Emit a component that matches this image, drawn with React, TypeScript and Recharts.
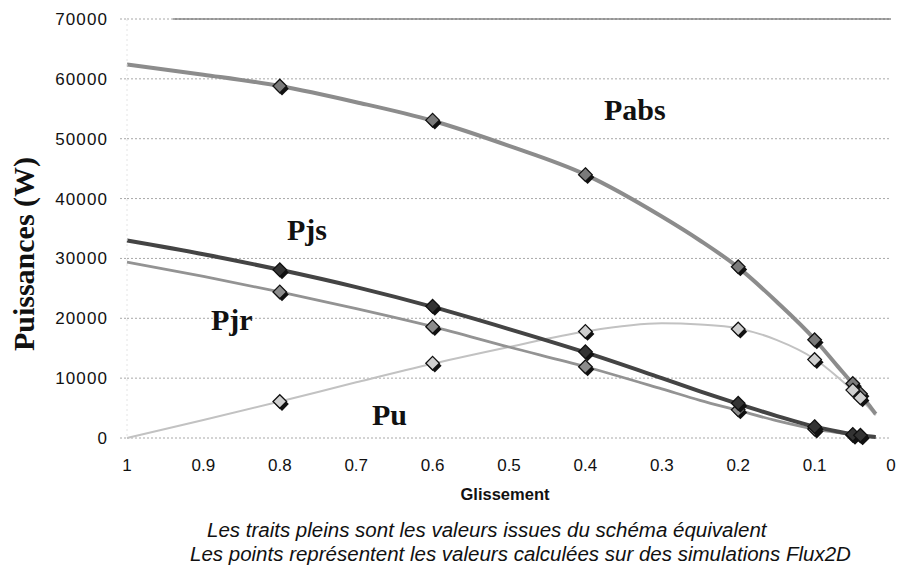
import React from "react";
import {
  ComposedChart,
  Line,
  Scatter,
  XAxis,
  YAxis,
  CartesianGrid,
  ReferenceLine,
} from "recharts";

// Slip values where the equivalent-circuit curves are sampled
const curveSlip = [1, 0.9, 0.8, 0.7, 0.6, 0.5, 0.4, 0.3, 0.25, 0.2, 0.15, 0.1, 0.07, 0.05, 0.04, 0.03, 0.02];
// Equivalent circuit results (W)
const pabsCurve = [62400, 60700, 58800, 56100, 53000, 48800, 44000, 37000, 33000, 28500, 22800, 16500, 12000, 9000, 7300, 5700, 4000];
const pjsCurve = [33000, 30700, 28100, 25200, 21900, 18200, 14300, 10000, 7800, 5700, 3700, 1900, 1100, 650, 450, 300, 180];
const pjrCurve = [29400, 27000, 24400, 21600, 18600, 15200, 11900, 8200, 6300, 4600, 2900, 1500, 900, 500, 380, 250, 150];
const puCurve = [0, 3000, 6100, 9300, 12400, 15200, 17800, 19150, 18950, 18300, 16400, 13200, 10200, 7900, 6600, 5200, 3800];

// Slip values of the Flux2D simulations
const simSlip = [0.8, 0.6, 0.4, 0.2, 0.1, 0.05, 0.04];
// Flux2D simulation results (W)
const pabsSim = [58800, 53100, 44000, 28600, 16400, 9100, 7400];
const pjsSim = [28100, 22000, 14400, 5800, 1900, 600, 450];
const pjrSim = [24400, 18600, 11900, 4700, 1500, 450, 350];
const puSim = [6100, 12500, 17800, 18200, 13100, 8000, 6700];

const xTicks = [1, 0.9, 0.8, 0.7, 0.6, 0.5, 0.4, 0.3, 0.2, 0.1, 0];
const yTicks = [0, 10000, 20000, 30000, 40000, 50000, 60000, 70000];

const toPoints = (xs: number[], ys: number[]) => xs.map((s, i) => ({ s, p: ys[i] }));

const SANS = '"Liberation Sans", Arial, Helvetica, sans-serif';
const SERIF = '"Liberation Serif", "Times New Roman", Times, serif';

const XTick = (props: any) => {
  const { x, y, payload } = props;
  return (
    <text x={x} y={y} dy="0.71em" textAnchor="middle" fontFamily={SANS} fontSize={17} fill="#111">
      {String(payload.value)}
    </text>
  );
};

const YTick = (props: any) => {
  const { x, y, payload } = props;
  return (
    <text x={x} y={y} dy="0.355em" textAnchor="end" fontFamily={SANS} fontSize={17} letterSpacing={1.1} fill="#111">
      {String(payload.value)}
    </text>
  );
};

const makeDiamond = (fill: string) => (props: any) => {
  const { cx, cy } = props;
  if (cx == null || cy == null) return <g />;
  const r = 6.8;
  const d = (x: number, y: number) =>
    `M${x},${y - r} L${x + r},${y} L${x},${y + r} L${x - r},${y} Z`;
  return (
    <g>
      <path d={d(cx + 2.2, cy + 2.6)} fill="#111" />
      <path d={d(cx, cy)} fill={fill} stroke="#111" strokeWidth={1.3} />
    </g>
  );
};

export default function App() {
  return (
    <div style={{ position: "absolute", left: 0, top: 0, width: 897, height: 571, background: "#fff" }}>
      <ComposedChart
        width={897}
        height={571}
        margin={{ top: 19, right: 6, bottom: 103, left: 0 }}
      >
        <CartesianGrid
          horizontal={true}
          vertical={false}
          stroke="#a8a8a8"
          strokeDasharray="2 2"
        />
        <ReferenceLine
          segment={[{ x: 0.94, y: 70000 }, { x: 0, y: 70000 }]}
          stroke="#555"
          strokeWidth={1.2}
        />
        <XAxis
          dataKey="s"
          type="number"
          domain={[0, 1]}
          reversed
          ticks={xTicks}
          interval={0}
          axisLine={false}
          tickLine={false}
          tickSize={0}
          tickMargin={21}
          height={30}
          tick={<XTick />}
        />
        <YAxis
          dataKey="p"
          type="number"
          domain={[0, 70000]}
          ticks={yTicks}
          interval={0}
          width={127}
          axisLine={{ stroke: "#e4e4e4", strokeDasharray: "2 3" }}
          tickLine={{ stroke: "#a8a8a8", strokeDasharray: "2 2" }}
          tickSize={7}
          tickMargin={12}
          tick={<YTick />}
        />

        <Line
          data={toPoints(curveSlip, puCurve)}
          dataKey="p"
          type="monotone"
          stroke="#c2c2c2"
          strokeWidth={2}
          dot={false}
          activeDot={false}
          isAnimationActive={false}
        />
        <Line
          data={toPoints(curveSlip, pjrCurve)}
          dataKey="p"
          type="monotone"
          stroke="#939393"
          strokeWidth={2.8}
          dot={false}
          activeDot={false}
          isAnimationActive={false}
        />
        <Line
          data={toPoints(curveSlip, pjsCurve)}
          dataKey="p"
          type="monotone"
          stroke="#444"
          strokeWidth={4}
          dot={false}
          activeDot={false}
          isAnimationActive={false}
        />
        <Line
          data={toPoints(curveSlip, pabsCurve)}
          dataKey="p"
          type="monotone"
          stroke="#8c8c8c"
          strokeWidth={4}
          dot={false}
          activeDot={false}
          isAnimationActive={false}
        />

        <Scatter data={toPoints(simSlip, pabsSim)} dataKey="p" shape={makeDiamond("#7a7a7a")} isAnimationActive={false} />
        <Scatter data={toPoints(simSlip, pjrSim)} dataKey="p" shape={makeDiamond("#8c8c8c")} isAnimationActive={false} />
        <Scatter data={toPoints(simSlip, pjsSim)} dataKey="p" shape={makeDiamond("#333")} isAnimationActive={false} />
        <Scatter data={toPoints(simSlip, puSim)} dataKey="p" shape={makeDiamond("#cfcfcf")} isAnimationActive={false} />
      </ComposedChart>

      <svg
        width={897}
        height={571}
        style={{ position: "absolute", left: 0, top: 0, pointerEvents: "none" }}
      >
        <text
          x={34}
          y={254}
          transform="rotate(-90 34 254)"
          textAnchor="middle"
          fontFamily={SERIF}
          fontWeight="bold"
          fontSize={30}
          fill="#111"
        >
          Puissances (W)
        </text>
        <text x={604} y={120} fontFamily={SERIF} fontWeight="bold" fontSize={30} fill="#111">Pabs</text>
        <text x={287} y={240} fontFamily={SERIF} fontWeight="bold" fontSize={30} fill="#111">Pjs</text>
        <text x={211} y={330} fontFamily={SERIF} fontWeight="bold" fontSize={30} fill="#111">Pjr</text>
        <text x={372} y={425} fontFamily={SERIF} fontWeight="bold" fontSize={30} fill="#111">Pu</text>
        <text x={505} y={500} textAnchor="middle" fontFamily={SANS} fontWeight="bold" fontSize={16.5} fill="#111">
          Glissement
        </text>
        <text x={207} y={537} fontFamily={SANS} fontStyle="italic" fontSize={20.5} fill="#111">
          Les traits pleins sont les valeurs issues du schéma équivalent
        </text>
        <text x={190} y={561} fontFamily={SANS} fontStyle="italic" fontSize={20.5} fill="#111">
          Les points représentent les valeurs calculées sur des simulations Flux2D
        </text>
      </svg>
    </div>
  );
}
